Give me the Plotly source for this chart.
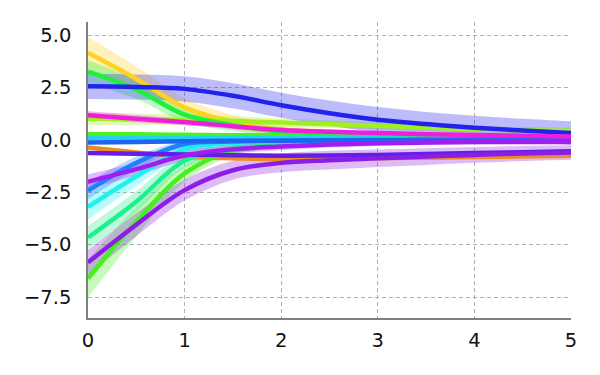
import plotly.graph_objects as go

# sample times
t = [0, 0.5, 1, 1.5, 2, 2.5, 3, 3.5, 4, 4.5, 5]

gold_mean = [4.15, 2.9, 1.55, 0.85, 0.45, 0.3, 0.22, 0.17, 0.14, 0.12, 0.1]
gold_sd = [0.75, 0.6, 0.45, 0.35, 0.25, 0.2, 0.16, 0.14, 0.12, 0.1, 0.1]
green_a_mean = [3.25, 2.4, 1.2, 0.7, 0.38, 0.25, 0.18, 0.14, 0.12, 0.1, 0.1]
green_a_sd = [0.55, 0.45, 0.35, 0.28, 0.22, 0.18, 0.15, 0.12, 0.1, 0.1, 0.1]
blue_mean = [2.55, 2.52, 2.43, 2.1, 1.65, 1.27, 0.96, 0.75, 0.58, 0.44, 0.32]
blue_sd = [0.6, 0.6, 0.6, 0.6, 0.6, 0.6, 0.6, 0.58, 0.57, 0.56, 0.56]
magenta_mean = [1.17, 1.0, 0.85, 0.65, 0.47, 0.38, 0.32, 0.27, 0.23, 0.19, 0.16]
magenta_sd = [0.2, 0.18, 0.16, 0.14, 0.12, 0.11, 0.1, 0.1, 0.1, 0.1, 0.1]
lime_mean = [1.0, 0.98, 0.95, 0.9, 0.82, 0.74, 0.67, 0.58, 0.5, 0.46, 0.43]
lime_sd = [0.3, 0.28, 0.25, 0.22, 0.2, 0.18, 0.17, 0.16, 0.15, 0.15, 0.15]
red_mean = [0.2, 0.2, 0.2, 0.19, 0.19, 0.18, 0.17, 0.16, 0.15, 0.15, 0.14]
red_sd = [0.05] * 11
green_b_mean = [0.27, 0.26, 0.24, 0.22, 0.19, 0.16, 0.14, 0.12, 0.11, 0.1, 0.1]
green_b_sd = [0.08] * 11
cyan_a_mean = [0.07, 0.08, 0.09, 0.09, 0.08, 0.07, 0.06, 0.05, 0.04, 0.03, 0.03]
cyan_a_sd = [0.05] * 11
dodger_a_mean = [-0.13, -0.1, -0.07, -0.05, -0.04, -0.03, -0.02, -0.01, 0, 0, 0]
dodger_a_sd = [0.05] * 11
orange_mean = [-0.37, -0.6, -0.8, -0.88, -0.92, -0.9, -0.88, -0.85, -0.82, -0.79, -0.76]
orange_sd = [0.1] * 11
violet_mean = [-0.63, -0.66, -0.7, -0.74, -0.76, -0.75, -0.72, -0.68, -0.63, -0.59, -0.55]
violet_sd = [0.08] * 11
purple_mean = [-2.0, -1.4, -0.75, -0.45, -0.32, -0.22, -0.16, -0.13, -0.11, -0.1, -0.1]
purple_sd = [0.35, 0.3, 0.25, 0.2, 0.18, 0.15, 0.13, 0.12, 0.1, 0.1, 0.1]
dodger_b_mean = [-2.43, -1.1, -0.2, -0.08, -0.04, -0.02, -0.01, 0, 0, 0, 0]
dodger_b_sd = [0.4, 0.3, 0.15, 0.1, 0.08, 0.06, 0.05, 0.05, 0.05, 0.05, 0.05]
cyan_b_mean = [-3.2, -1.75, -0.45, -0.15, -0.05, 0, 0.02, 0.03, 0.03, 0.03, 0.03]
cyan_b_sd = [0.6, 0.45, 0.25, 0.15, 0.1, 0.08, 0.06, 0.05, 0.05, 0.05, 0.05]
spring_mean = [-4.66, -2.95, -1.0, -0.45, -0.2, -0.1, -0.05, -0.03, -0.02, -0.01, 0]
spring_sd = [0.55, 0.5, 0.35, 0.2, 0.12, 0.1, 0.08, 0.06, 0.05, 0.05, 0.05]
green_c_mean = [-6.62, -3.9, -1.6, -0.5, -0.25, -0.15, -0.1, -0.08, -0.07, -0.06, -0.05]
green_c_sd = [0.9, 0.7, 0.4, 0.25, 0.15, 0.1, 0.08, 0.06, 0.05, 0.05, 0.05]
bviolet_mean = [-5.85, -4.05, -2.4, -1.45, -1.1, -0.97, -0.88, -0.8, -0.72, -0.65, -0.6]
bviolet_sd = [0.6, 0.55, 0.5, 0.45, 0.45, 0.45, 0.42, 0.4, 0.38, 0.36, 0.35]

series = [
    ("#F0321E", red_mean, red_sd),
    ("#F08C1E", orange_mean, orange_sd),
    ("#FFD21E", gold_mean, gold_sd),
    ("#A0F01E", lime_mean, lime_sd),
    ("#50F01E", green_b_mean, green_b_sd),
    ("#46F01E", green_c_mean, green_c_sd),
    ("#1EF03C", green_a_mean, green_a_sd),
    ("#1EF08C", spring_mean, spring_sd),
    ("#1EF0F0", cyan_b_mean, cyan_b_sd),
    ("#1ED2F0", cyan_a_mean, cyan_a_sd),
    ("#1E82FF", dodger_b_mean, dodger_b_sd),
    ("#1E64F0", dodger_a_mean, dodger_a_sd),
    ("#2222EE", blue_mean, blue_sd),
    ("#641EE6", violet_mean, violet_sd),
    ("#8A1EE6", bviolet_mean, bviolet_sd),
    ("#A01EF0", purple_mean, purple_sd),
    ("#F01EDC", magenta_mean, magenta_sd),
]


def rgba(hex_color, a):
    h = hex_color.lstrip("#")
    r, g, b = int(h[0:2], 16), int(h[2:4], 16), int(h[4:6], 16)
    return f"rgba({r},{g},{b},{a})"


fig = go.Figure()
for color, mean, sd in series:
    lo = [m - s for m, s in zip(mean, sd)]
    hi = [m + s for m, s in zip(mean, sd)]
    fig.add_trace(go.Scatter(x=t, y=lo, mode="lines", line=dict(width=0, shape="spline"),
                             hoverinfo="skip", showlegend=False))
    fig.add_trace(go.Scatter(x=t, y=hi, mode="lines", line=dict(width=0, shape="spline"),
                             fill="tonexty", fillcolor=rgba(color, 0.3),
                             hoverinfo="skip", showlegend=False))
for color, mean, sd in series:
    fig.add_trace(go.Scatter(x=t, y=mean, mode="lines",
                             line=dict(color=color, width=4.5, shape="spline"),
                             showlegend=False))

axis_common = dict(
    showgrid=True, gridcolor="#b0b0b0", gridwidth=1, griddash="4px,3px",
    showline=True, linecolor="#808080", linewidth=1.5, zeroline=False, automargin=False,
    ticks="", tickfont=dict(family="DejaVu Sans", size=19.5, color="#111111"),
)
fig.update_xaxes(range=[0, 5], tickvals=[0, 1, 2, 3, 4, 5], ticklabelstandoff=4, **axis_common)
fig.update_yaxes(range=[-8.5, 5.62], tickvals=[-7.5, -5, -2.5, 0, 2.5, 5], tickformat=".1f",
                 ticklabelstandoff=11, **axis_common)
# the page body adds an 8px offset, so margins are trimmed to keep the plot box in place
fig.update_layout(width=600, height=375, margin=dict(l=80, r=37, t=14, b=65),
                  plot_bgcolor="white", paper_bgcolor="white", showlegend=False)
fig.write_html("out.html")
